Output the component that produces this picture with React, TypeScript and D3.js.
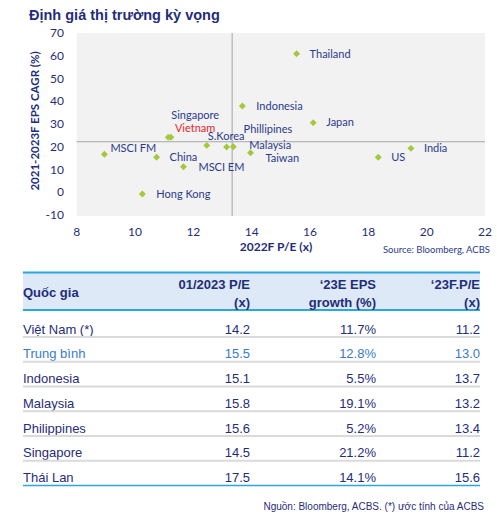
import React from "react";
import * as d3 from "d3";

const names = ["Thailand", "Indonesia", "Japan", "India", "US", "Taiwan", "Malaysia", "Phillipines", "S.Korea", "Singapore", "Vietnam", "MSCI FM", "China", "MSCI EM", "Hong Kong"];
const pe = [15.54, 13.68, 16.11, 19.46, 18.34, 13.96, 13.37, 13.14, 12.46, 11.14, 11.23, 8.95, 10.74, 11.66, 10.25];
const cagr = [60.9, 37.9, 30.6, 19.3, 15.4, 17.4, 20.0, 19.9, 20.6, 24.2, 24.2, 16.7, 15.4, 11.2, -0.8];
const xTicks = [8, 10, 12, 14, 16, 18, 20, 22];
const yTicks = [-10, 0, 10, 20, 30, 40, 50, 60, 70];
const avgPE = 13.33;
const avgCAGR = 22.2;

// label layout offsets (px), separate from data
const labelDx = [13, 14, 13, 13, 13, 15, 16, 17, 1, 3, 4, 6, 13, 15, 14];
const labelDy = [0, 0, 0, 0, 0, 5, -2, -18, -9, -22, -9, -6, 0, 0, 0];

const tableCountries = ["Việt Nam (*)", "Trung bình", "Indonesia", "Malaysia", "Philippines", "Singapore", "Thái Lan"];
const tablePE = ["14.2", "15.5", "15.1", "15.8", "15.6", "14.5", "17.5"];
const tableEPS = ["11.7%", "12.8%", "5.5%", "19.1%", "5.2%", "21.2%", "14.1%"];
const tableFPE = ["11.2", "13.0", "13.7", "13.2", "13.4", "11.2", "15.6"];

const NAVY = "#1f2d7a";
const LABEL = "#2b3a8f";
const GREEN = "#a3c83a";
const BLUE_LINE = "#2aa8de";

export default function App() {
  const x = d3.scaleLinear().domain([8, 22]).range([76.7, 485]);
  const y = d3.scaleLinear().domain([-10, 70]).range([215, 33]);
  const diamond = d3.symbol().type(d3.symbolSquare).size(24)()!;
  const rowY = (i: number) => 329 + i * 24.75;

  return (
    <svg width={497} height={518} style={{ position: "absolute", left: 0, top: 0, background: "#fff" }}>
      <text x={29} y={20} fontFamily="Liberation Sans, Arial" fontWeight="bold" fontSize={14.5} fill={NAVY}>
        Định giá thị trường kỳ vọng
      </text>
      {/* plot area */}
      <rect x={x(8)} y={y(70)} width={x(22) - x(8)} height={y(-10) - y(70) + 1} fill="#f2f2f2" />
      <line x1={x(avgPE)} x2={x(avgPE)} y1={y(70)} y2={y(-10) + 1} stroke="#a6a6a6" strokeWidth={1} />
      <line x1={x(8)} x2={x(22)} y1={y(avgCAGR)} y2={y(avgCAGR)} stroke="#a6a6a6" strokeWidth={1} />
      {yTicks.map((t) => (
        <text key={t} x={64} y={y(t)} dy="0.35em" textAnchor="end" fontFamily="Lato" fontSize={12} fill={NAVY}>
          {t}
        </text>
      ))}
      {xTicks.map((t) => (
        <text key={t} x={x(t)} y={232} dy="0.35em" textAnchor="middle" fontFamily="Lato" fontSize={12} fill={NAVY}>
          {t}
        </text>
      ))}
      <text transform={`translate(35,121) rotate(-90)`} textAnchor="middle" dy="0.35em" fontFamily="Lato" fontWeight="bold" fontSize={11.5} fill={NAVY}>
        2021-2023F EPS CAGR (%)
      </text>
      <text x={276} y={247} dy="0.35em" textAnchor="middle" fontFamily="Lato" fontWeight="bold" fontSize={12} fill={NAVY}>
        2022F P/E (x)
      </text>
      <text x={490} y={249.5} dy="0.35em" textAnchor="end" fontFamily="Lato" fontSize={9.5} fill={LABEL}>
        Source: Bloomberg, ACBS
      </text>
      {names.map((n, i) => (
        <g key={n}>
          <path d={diamond} transform={`translate(${x(pe[i])},${y(cagr[i])}) rotate(45)`} fill={GREEN} />
          <text x={x(pe[i]) + labelDx[i]} y={y(cagr[i]) + labelDy[i]} dy="0.35em" fontFamily="Lato" fontSize={11} fill={n === "Vietnam" ? "#e8262b" : LABEL}>
            {n}
          </text>
        </g>
      ))}
      {/* table */}
      <rect x={23} y={272} width={457} height={38} fill="#dde9f6" />
      <line x1={23} x2={480} y1={272.5} y2={272.5} stroke={BLUE_LINE} strokeWidth={2} />
      <line x1={23} x2={480} y1={310} y2={310} stroke={BLUE_LINE} strokeWidth={2} />
      <g fontFamily="Liberation Sans, Arial" fontWeight="bold" fontSize={13} fill={NAVY}>
        <text x={23} y={292.5} dy="0.35em">Quốc gia</text>
        <text x={250} y={284} dy="0.35em" textAnchor="end">01/2023 P/E</text>
        <text x={250} y={302} dy="0.35em" textAnchor="end">(x)</text>
        <text x={376} y={284} dy="0.35em" textAnchor="end">‘23E EPS</text>
        <text x={376} y={302} dy="0.35em" textAnchor="end">growth (%)</text>
        <text x={480} y={284} dy="0.35em" textAnchor="end">‘23F.P/E</text>
        <text x={480} y={302} dy="0.35em" textAnchor="end">(x)</text>
      </g>
      {tableCountries.map((c, i) => {
        const fill = i === 1 ? "#3a7cc4" : NAVY;
        const last = i === tableCountries.length - 1;
        return (
          <g key={c} fontFamily="Liberation Sans, Arial" fontSize={13} fill={fill}>
            <text x={23} y={rowY(i)} dy="0.35em">{c}</text>
            <text x={250} y={rowY(i)} dy="0.35em" textAnchor="end">{tablePE[i]}</text>
            <text x={376} y={rowY(i)} dy="0.35em" textAnchor="end">{tableEPS[i]}</text>
            <text x={480} y={rowY(i)} dy="0.35em" textAnchor="end">{tableFPE[i]}</text>
            <line x1={23} x2={480} y1={rowY(i) + 8} y2={rowY(i) + 8} stroke={last ? BLUE_LINE : "#dadada"} strokeWidth={last ? 1.5 : 2} />
          </g>
        );
      })}
      <text x={484} y={506} dy="0.35em" textAnchor="end" fontFamily="Liberation Sans, Arial" fontSize={10} fill={NAVY}>
        Nguồn: Bloomberg, ACBS. (*) ước tính của ACBS
      </text>
    </svg>
  );
}
